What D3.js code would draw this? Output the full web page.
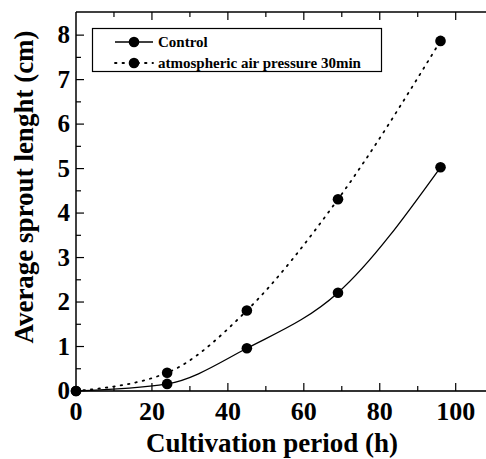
<!DOCTYPE html>
<html>
<head>
<meta charset="utf-8">
<script src="https://cdn.jsdelivr.net/npm/d3@7"></script>
</head>
<body style="margin:0; background:#fff; font-family:'Liberation Serif', serif">
<svg id="chart" width="486" height="459"></svg>
<script>
// data
const hours = [0, 24, 45, 69, 96];
const control = [0, 0.16, 0.96, 2.21, 5.03];
const pressure30 = [0, 0.41, 1.81, 4.31, 7.87];
const xTicks = [0, 20, 40, 60, 80, 100];
const yTicks = [0, 1, 2, 3, 4, 5, 6, 7, 8];
const seriesNames = ['Control', 'atmospheric air pressure 30min'];

const margin = { top: 12, left: 76, bottom: 391 };

const svg = d3.select('#chart')
  .style('font-family', "'Liberation Serif', serif");

// all texts are bold Times-like
function label(sel, size) {
  return sel
    .attr('font-family', 'Liberation Serif, serif')
    .style('font-family', "'Liberation Serif', serif")
    .style('font-weight', 'bold')
    .style('font-size', size + 'px')
    .attr('fill', '#000');
}

// scales
const x = d3.scaleLinear().domain([0, 110]).range([margin.left, margin.left + 110 * 3.797]);
const y = d3.scaleLinear().domain([0, 8.52]).range([margin.bottom, margin.top]);

const g = svg.append('g');

// axes lines
const x0 = x(0), x1 = x(110), y0 = y(0), y1 = y(8.52);
g.append('line').attr('x1', x0).attr('x2', x1).attr('y1', y0).attr('y2', y0)
  .attr('stroke', '#333').attr('stroke-width', 2);
g.append('line').attr('x1', x0).attr('x2', x1).attr('y1', y1).attr('y2', y1)
  .attr('stroke', '#000').attr('stroke-width', 1.3);
g.append('line').attr('x1', x0).attr('x2', x0).attr('y1', y0).attr('y2', y1)
  .attr('stroke', '#000').attr('stroke-width', 1.5);

// ticks (inward), major + minor
const xMinor = d3.range(10, 110, 20);
const yMinor = d3.range(0.5, 8.5, 1);

function xTickMarks(vals, len) {
  g.selectAll(null).data(vals).enter().append('line')
    .attr('x1', d => x(d)).attr('x2', d => x(d))
    .attr('y1', y0).attr('y2', y0 - len)
    .attr('stroke', '#000').attr('stroke-width', 1.2);
  g.selectAll(null).data(vals).enter().append('line')
    .attr('x1', d => x(d)).attr('x2', d => x(d))
    .attr('y1', y1).attr('y2', y1 + len)
    .attr('stroke', '#000').attr('stroke-width', 1.2);
}
xTickMarks(xTicks.filter(d => d > 0), 8);
xTickMarks(xMinor, 5);

function yTickMarks(vals, len) {
  g.selectAll(null).data(vals).enter().append('line')
    .attr('x1', x0).attr('x2', x0 + len)
    .attr('y1', d => y(d)).attr('y2', d => y(d))
    .attr('stroke', '#000').attr('stroke-width', 1.2);
}
yTickMarks(yTicks.filter(d => d > 0), 8);
yTickMarks(yMinor, 5);

// tick labels
label(g.selectAll('.xlab').data(xTicks).enter().append('text'), 26)
  .attr('x', d => x(d)).attr('y', 420)
  .attr('text-anchor', 'middle')
  .text(d => d);

label(g.selectAll('.ylab').data(yTicks).enter().append('text'), 25)
  .attr('x', 70).attr('y', d => y(d) + 8)
  .attr('text-anchor', 'end')
  .text(d => d);

// axis titles
label(svg.append('text'), 27)
  .attr('x', 272).attr('y', 452)
  .attr('text-anchor', 'middle')
  .text('Cultivation period (h)');

label(svg.append('text'), 27)
  .attr('transform', 'translate(33,187) rotate(-90)')
  .attr('text-anchor', 'middle')
  .text('Average sprout lenght (cm)');

// curves
const line = d3.line()
  .x(d => x(d[0]))
  .y(d => y(d[1]))
  .curve(d3.curveMonotoneX);

const ctrlPts = hours.map((h, i) => [h, control[i]]);
const presPts = hours.map((h, i) => [h, pressure30[i]]);

g.append('path').datum(ctrlPts)
  .attr('d', line).attr('fill', 'none')
  .attr('stroke', '#000').attr('stroke-width', 1.3);

g.append('path').datum(presPts)
  .attr('d', line).attr('fill', 'none')
  .attr('stroke', '#000').attr('stroke-width', 1.8)
  .attr('stroke-dasharray', '1.5,6')
  .attr('stroke-linecap', 'round');

// markers
[ctrlPts, presPts].forEach(pts => {
  g.selectAll(null).data(pts).enter().append('circle')
    .attr('cx', d => x(d[0])).attr('cy', d => y(d[1]))
    .attr('r', 5.3).attr('fill', '#000');
});

// legend
const legend = svg.append('g');
legend.append('rect')
  .attr('x', 92.5).attr('y', 28.5).attr('width', 289).attr('height', 43)
  .attr('fill', '#fff').attr('stroke', '#000').attr('stroke-width', 1.2);

seriesNames.forEach((name, i) => {
  const ly = 42 + i * 21;
  legend.append('line')
    .attr('x1', 115).attr('x2', 153).attr('y1', ly).attr('y2', ly)
    .attr('stroke', '#000')
    .attr('stroke-width', i === 0 ? 1.3 : 1.8)
    .attr('stroke-dasharray', i === 0 ? null : '1.5,6')
    .attr('stroke-linecap', i === 0 ? 'butt' : 'round');
  legend.append('circle')
    .attr('cx', 134).attr('cy', ly).attr('r', 5.3).attr('fill', '#000');
  label(legend.append('text'), 15)
    .attr('x', 158).attr('y', ly + 5)
    .text(name);
});
</script>
</body>
</html>
